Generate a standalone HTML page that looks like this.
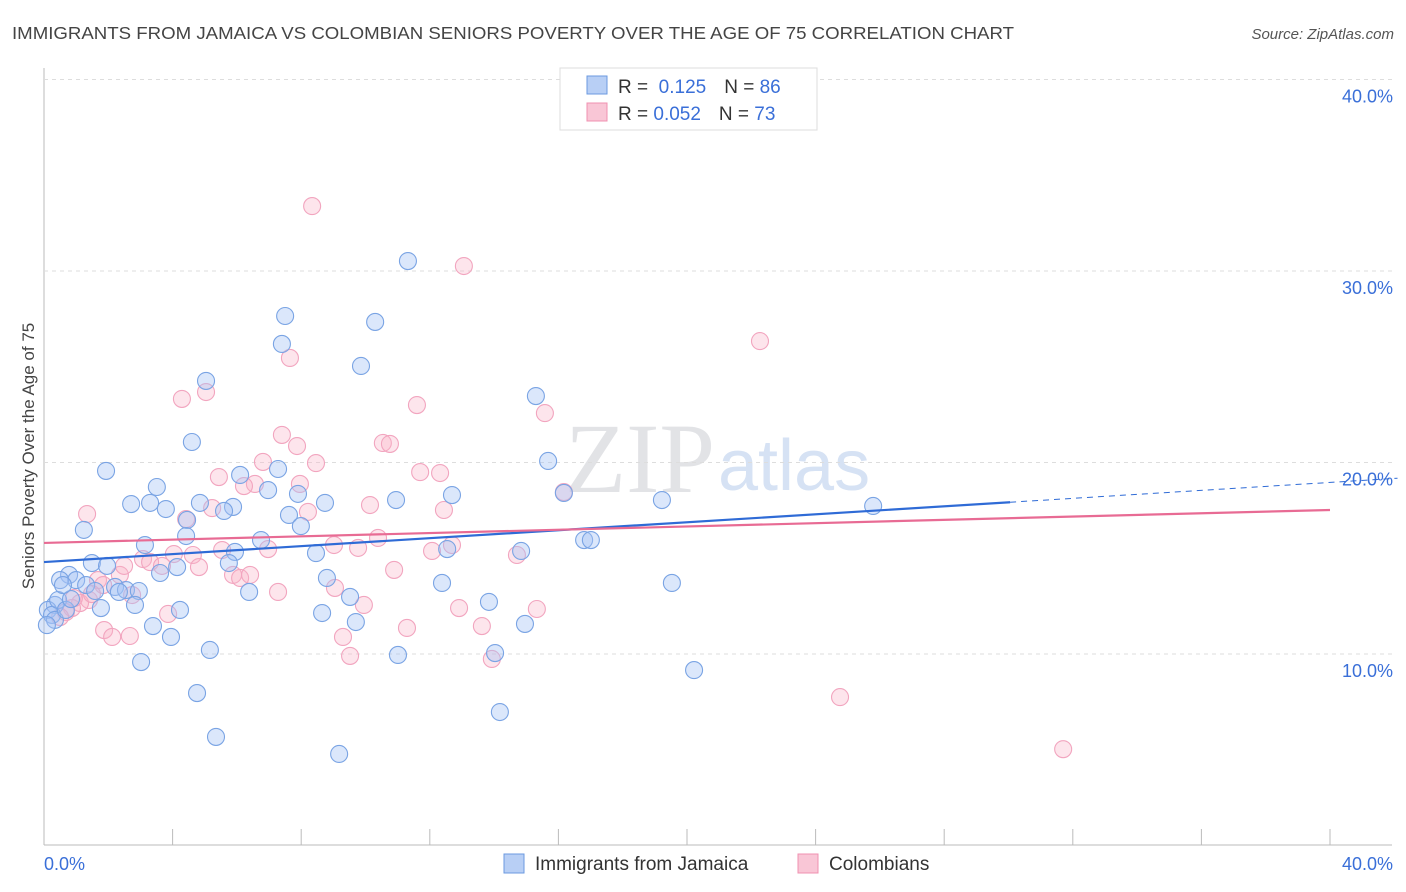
<!DOCTYPE html>
<html><head><meta charset="utf-8"><style>
body{margin:0;background:#fff;font-family:"Liberation Sans",sans-serif}
svg{display:block}
</style></head><body>
<svg id="c" width="1406" height="892" xmlns="http://www.w3.org/2000/svg">
<text x="12" y="39" font-size="17.5" fill="#444" textLength="1002" lengthAdjust="spacingAndGlyphs">IMMIGRANTS FROM JAMAICA VS COLOMBIAN SENIORS POVERTY OVER THE AGE OF 75 CORRELATION CHART</text>
<text x="1394" y="39" font-size="15" fill="#555" font-style="italic" text-anchor="end">Source: ZipAtlas.com</text>
<text x="715" y="492" font-size="100" fill="#e2e3e6" text-anchor="end" font-family="Liberation Serif">ZIP</text>
<text x="718" y="490" font-size="72" fill="#d6e2f4">atlas</text>
<g id="grid"></g><g id="pts"></g><g id="lines"></g>
<text transform="translate(34,456) rotate(-90)" font-size="17" fill="#444" text-anchor="middle">Seniors Poverty Over the Age of 75</text>
<g>
<rect x="560" y="68" width="257" height="62" fill="#fff" stroke="#ddd"/>
<rect x="587" y="76" width="20" height="18" fill="#b8cff5" stroke="#6b9ae0"/>
<rect x="587" y="103" width="20" height="18" fill="#f9c6d6" stroke="#f090b0"/>
<text x="618" y="93" font-size="19" fill="#333">R = <tspan fill="#3a6fd8">&#160;0.125</tspan><tspan dx="18">N = </tspan><tspan fill="#3a6fd8">86</tspan></text>
<text x="618" y="120" font-size="19" fill="#333">R = <tspan fill="#3a6fd8">0.052</tspan><tspan dx="18">N = </tspan><tspan fill="#3a6fd8">73</tspan></text>
</g>
<g>
<rect x="504" y="854" width="20" height="19" fill="#b8cff5" stroke="#6b9ae0"/>
<text x="535" y="870" font-size="19" fill="#333">Immigrants from Jamaica</text>
<rect x="798" y="854" width="20" height="19" fill="#f9c6d6" stroke="#f090b0"/>
<text x="829" y="870" font-size="19" fill="#333">Colombians</text>
</g>
<text x="44" y="870" font-size="18" fill="#3a6fd8">0.0%</text>
<text x="1393" y="870" font-size="18" fill="#3a6fd8" text-anchor="end">40.0%</text>
</svg>
<script>
const yTicks=[10,20,30,40];
const yTickLabels=["10.0%","20.0%","30.0%","40.0%"];
const blueX=[11.32,7.50,10.30,7.40,9.86,5.04,15.30,4.60,15.68,1.93,6.10,7.28,3.51,6.97,7.90,16.17,12.69,10.95,2.71,3.30,4.85,5.88,5.60,8.74,3.79,19.22,25.79,7.62,4.45,7.99,1.24,4.42,6.75,3.14,5.94,16.80,17.01,14.84,12.54,8.46,1.49,5.75,1.96,4.14,3.61,0.78,1.00,0.50,8.80,12.38,19.53,1.31,2.21,2.55,1.59,2.33,2.95,6.38,9.52,13.84,2.83,1.77,4.23,8.65,0.34,0.12,14.96,9.70,3.39,3.95,5.16,11.01,14.03,3.02,20.22,4.76,14.18,5.35,9.18,0.25,0.34,0.44,0.09,0.68,0.84,0.59];
const blueY=[30.52,27.65,27.34,26.19,25.04,24.26,23.47,21.07,20.08,19.56,19.35,19.66,18.72,18.56,18.36,18.41,18.30,18.04,17.83,17.89,17.89,17.68,17.47,17.89,17.57,18.04,17.73,17.26,17.00,16.68,16.48,16.16,15.95,15.69,15.33,15.95,15.95,15.38,15.48,15.27,14.75,14.75,14.60,14.54,14.23,14.13,13.86,13.86,13.97,13.71,13.71,13.60,13.50,13.34,13.29,13.24,13.29,13.24,12.98,12.72,12.56,12.40,12.30,12.14,12.56,12.30,11.57,11.67,11.46,10.89,10.21,9.95,10.05,9.58,9.16,7.96,6.97,5.67,4.78,12.04,11.78,12.82,11.51,12.30,12.87,13.60];
const pinkX=[8.34,13.06,22.27,7.65,4.29,5.04,11.60,15.58,7.40,10.54,10.76,7.87,11.70,6.81,8.46,5.44,12.32,7.96,6.56,6.22,1.34,5.23,4.42,8.21,10.14,12.44,16.17,10.39,12.69,12.07,14.71,10.89,3.08,4.04,5.54,6.97,4.63,3.30,3.67,9.02,9.77,2.36,2.49,4.82,5.88,6.10,6.41,9.05,1.68,1.84,2.74,1.40,1.12,0.87,0.68,0.50,7.28,9.95,12.91,15.33,13.62,11.29,1.87,2.12,2.67,3.86,9.30,13.93,9.52,24.76,31.70,1.49,0.93];
const pinkY=[33.39,30.26,26.34,25.46,23.32,23.68,23.00,22.58,21.44,21.02,20.97,20.86,19.50,20.03,19.97,19.24,19.45,18.88,18.88,18.77,17.31,17.62,17.05,17.42,17.78,17.52,18.46,16.06,15.69,15.38,15.17,14.39,14.96,15.22,15.43,15.48,15.17,14.80,14.60,15.69,15.54,14.13,14.60,14.54,14.13,13.97,14.13,13.45,13.86,13.60,13.08,12.82,12.66,12.40,12.19,11.93,13.24,12.56,12.40,12.35,11.46,11.36,11.25,10.89,10.94,12.09,10.89,9.74,9.90,7.75,5.03,13.13,12.92];
const trendIntercept=[14.80,15.80];
const trendSlope=[0.104,0.043];
const NS="http://www.w3.org/2000/svg";
const X=v=>44+v/40*1286, Y=v=>654-(v-10)*19.15;
function mk(t,a,p){const e=document.createElementNS(NS,t);for(const k in a)e.setAttribute(k,a[k]);p.appendChild(e);return e;}
const grid=document.getElementById('grid');
const ax=mk('line',{x1:44,y1:68,x2:44,y2:845,stroke:'#bbb'},grid);


const bx=mk('line',{x1:44,y1:845,x2:1392,y2:845,stroke:'#bbb'},grid);


for(let i=0;i<=10;i++){const t=mk('line',{x1:X(i*4),x2:X(i*4),y1:829,y2:845,stroke:'#bbb'},grid);

}
yTicks.forEach((v,i)=>{const g=mk('line',{x1:44,x2:1392,y1:Y(v),y2:Y(v),stroke:'#ddd','stroke-dasharray':'4,4'},grid);


const t=mk('text',{x:1393,y:Y(v)+23,'font-size':18,fill:'#3a6fd8','text-anchor':'end'},grid);t.textContent=yTickLabels[i];

});
const pts=document.getElementById('pts');
pinkX.forEach((x,i)=>{const c=mk('circle',{cx:X(x),cy:Y(pinkY[i]),r:8.5,fill:'rgba(248,180,200,0.35)',stroke:'#f2a5bf','stroke-width':1.1},pts);

});
blueX.forEach((x,i)=>{const c=mk('circle',{cx:X(x),cy:Y(blueY[i]),r:8.5,fill:'rgba(164,194,244,0.4)',stroke:'#7aa4e4','stroke-width':1.1},pts);

});
const lines=document.getElementById('lines');
const l1=mk('line',{x1:X(0),y1:Y(trendIntercept[0]),x2:X(30.05),y2:Y(trendIntercept[0]+trendSlope[0]*30.05),stroke:'#2f6bd6','stroke-width':2.2},lines);


const l2=mk('line',{x1:X(30.05),y1:Y(trendIntercept[0]+trendSlope[0]*30.05),x2:X(42.1),y2:Y(trendIntercept[0]+trendSlope[0]*42.1),stroke:'#2f6bd6','stroke-width':1,'stroke-dasharray':'6,5'},lines);


const l3=mk('line',{x1:X(0),y1:Y(trendIntercept[1]),x2:X(40),y2:Y(trendIntercept[1]+trendSlope[1]*40),stroke:'#e86b94','stroke-width':2.2},lines);


</script>
</body></html>
